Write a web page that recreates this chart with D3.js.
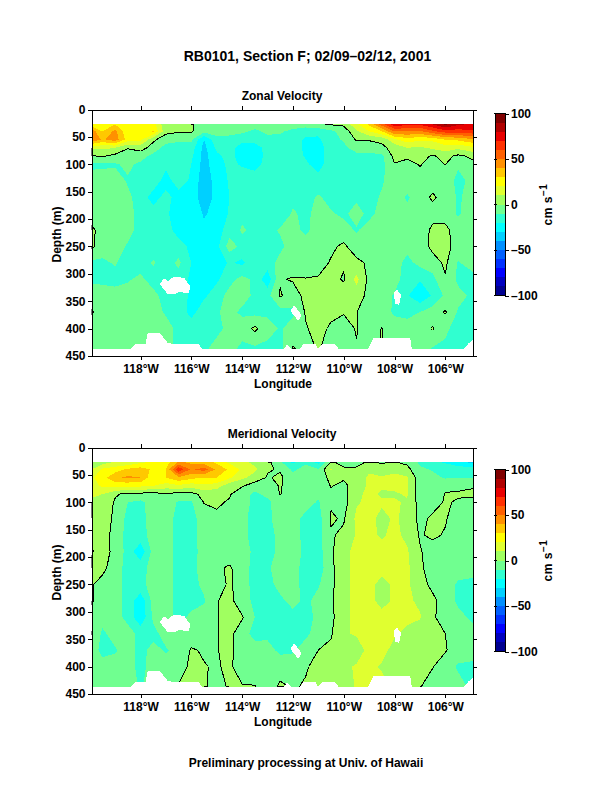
<!DOCTYPE html>
<html><head><meta charset="utf-8"><style>html,body{margin:0;background:#fff}svg{display:block}text{font-family:"Liberation Sans",Arial,sans-serif;font-weight:bold;fill:#000}</style></head><body>
<svg id="c" width="612" height="792"></svg>
<script src="https://cdn.jsdelivr.net/npm/d3@7/dist/d3.min.js"></script>
<script>
const lons=[-119.93,-119.5,-119,-118.5,-118,-117.5,-117,-116.5,-116,-115.5,-115,-114.5,-114,-113.5,-113,-112.5,-112,-111.5,-111,-110.5,-110,-109.5,-109,-108.5,-108,-107.5,-107,-106.5,-106,-105.5,-104.91];
const depths=[27,40,55,70,85,100,130,160,190,220,250,280,310,340,370,400,437];
const zonal=[
[24,28,30,20,22,24,2,1,1,-4,-1,-1,-6,-6,-6,-6,-6,-6,-1,1,2,18,32,55,78,72,72,80,92,82,78],
[46,30,43,22,26,31,3,1,1,-7,-6,-6,-8,-12,-8,-9,-12,-15,-17,-12,-6,8,20,30,50,50,48,58,65,65,68],
[50,38,46,25,22,2,-6,-8,-8,-30,-13,-14,-17,-14,-13,-12,-14,-22,-22,-13,-9,1,1,2,18,25,22,22,30,32,38],
[12,12,10,0.5,4,-4,-14,-15,-15,-33,-18,-16,-25,-28,-14,-15,-15,-22,-25,-14,-12,-6,-7,-2,3,10,8,12,15,12,18],
[-1,1,-3,-4,-6,-13,-15,-16,-18,-34,-22,-17,-24,-27,-16,-14,-15,-21,-25,-14,-14,-13,-12,-12,3,3,3,-1,3,-2,2],
[-12,-12,-11,-8,-12,-15,-17,-16,-20,-34,-24,-18,-21,-24,-16,-13,-14,-18,-25,-13,-13,-14,-13,-13,-0.5,-5,1,-5,0.3,-9,-2],
[-6,-5,-6,-11,-12,-13,-25,-14,-22,-36,-26,-19,-15,-14,-15,-15,-13,-14,-15,-13,-13,-13,-14,-11,-6,-6,-6,-6,-6,-12,-8],
[-5,-5,-6,-8,-14,-25,-16,-25,-24,-36,-27,-20,-14,-13,-15,-16,-12,-13,-9,-13,-11,-12,-13,-9,-6,-11,-6,2,-5,-11,-7],
[-5,-4,-5,-7,-13,-15,-18,-26,-24,-31,-27,-19,-12,-13,-14,-16,-9,-12,-7,-9,-12,-6,-13,-6,-6,-8,-7,-5,-5,-11,-6],
[2,-4,-5,-7,-13,-14,-15,-25,-23,-28,-25,-15,-9,-12,-13,-9,-7,-12,-6,-6,-6,-11,-6,-6,-6,-8,-8,3,3,-6,-5],
[2,-5,-6,-11,-14,-14,-16,-15,-23,-28,-23,-5,-13,-14,-13,-12,-6,-6,-6,-2,2,-6,-6,-6,-6,-7,-6,3,4,-5,-5],
[-12,-12,-9,-15,-14,-9,-14,-8,-20,-23,-24,-19,-22,-14,-14,-7,-6,-6,-4,1,1,3,-2,-6,-6,-13,-7,-5,2,-11,-5],
[-12,-13,-14,-11,-8,-14,-14,-14,-22,-23,-22,-13,-7,-12,-27,-1,1,0.5,1,3,-1,13,-3,-6,-6,-15,-19,-13,-1,-12,-14],
[-4,-4,-5,-6,-9,-7,-14,-15,-22,-22,-14,-7,-6,-12,-13,1,-5,3,5,4,5,5,-3,-6,-11,-19,-28,-19,-8,-7,-12],
[1,-5,-6,-7,-7,-7,-11,-13,-24,-13,-11,-7,-12,-13,-12,-14,-12,1,3,3,1,0.5,-9,-7,-11,-12,-10,-5,1,-11,-11],
[-5,-5,-5,-5,-6,-5,-7,-12,-13,-13,-13,-7,-5,2,-6,-11,-6,-1,4,-2,-6,1,-7,0.5,-7,-7,-6,1,-9,-12,-12],
[-6,-6,-7,-6,-6,-6,-8,-12,-12,-12,-6,-6,-13,-12,-13,-13,1,-4,1,-5,-6,-1,-7,1,-8,-8,-6,-11,-11,-12,-12]];
const meridional=[
[3,5,12,12,18,22,25,42,38,35,28,18,12,8,3,-8,-22,-12,-23,1,-2,-2,1,-1,0.5,-2,-12,-18,-21,-26,-33],
[10,22,25,32,35,28,30,68,48,55,38,28,18,12,1,-1,-12,-6,-9,11,1,1,8,5,8,3,-8,-11,-14,-15,-14],
[18,26,38,42,40,22,30,38,33,30,30,22,12,6,-1,2,-7,-7,-6,3,1,3,12,11,12,11,-6,-7,-11,-10,-11],
[15,22,24,22,22,20,15,18,14,18,15,4,1,-5,-6,1,-6,-7,-7,0.5,-2,4,12,11,12,11,-6,-6,-2,-2,-1],
[12,10,1,-2,-3,-4,-1,-4,-3,3,2,1,-6,-12,-7,0.5,-7,-7,-8,-2,-4,8,12,9,9,11,-6,-6,0.5,1,2],
[8,6,-1,-10,-12,-6,-5,-11,-11,0.5,1.5,-1,-5,-13,-13,-3,-5,-6,-11,-1,-4,9,12,11,11,9,-4,-4,1,-1,-3],
[-0.5,5,-2,-13,-13,-6,-6,-13,-13,-6,-2,-5,-7,-14,-12,-6,-6,-13,-14,1,-1,12,12,8,11,8,-3,2,1,-6,-7],
[-0.5,4,-3,-14,-14,-6,-6,-13,-13,-6,-6,-6,-7,-14,-14,-7,-6,-13,-14,-1,2,11,12,9,12,8,-1,2,-1,-6,-6],
[-0.5,3,-2,-14,-27,-6,-6,-13,-13,-7,-6,-6,-6,-12,-13,-8,-6,-12,-14,-2,9,11,12,13,12,11,1,-5,-6,-7,-7],
[1,3,-6,-13,-14,-6,-6,-13,-13,-6,-2,1.5,-6,-13,-11,-7,-7,-13,-15,-3,9,11,12,12,12,12,2,-5,-9,-7,-7],
[1,-4,-6,-13,-13,-6,-6,-13,-13,-8,-6,2,-6,-13,-13,-7,-7,-13,-11,-3,9,11,12,8,11,12,3,-2,-6,-11,-12],
[1,-4,-6,-13,-27,-6,-6,-13,-13,-11,-0.5,3,-6,-12,-14,-12,-7,-12,-7,-2,9,11,12,8,11,12,8,2,-4,-12,-11],
[-3,-6,-6,-13,-28,-8,-6,-13,-8,-6,-0.5,3,1,-10,-13,-13,-13,-13,-8,-3,9,11,12,12,13,12,11,2,-6,-7,-12],
[0.5,-12,-6,-6,-13,-13,-6,-6,-6,-6,-0.5,3,-6,-13,-12,-13,-13,-12,-6,-1,9,11,13,13,11,8,3,3,0,-6,-7],
[-5,-13,-11,-6,-13,-7,-11,-7,1,-1,-0.5,3,-6,-6,-7,-12,-11,-6,0,2,5,5,13,13,7,5,4,4,1,-6,-6],
[-6,-6,-6,-6,-13,-6,-6,-6,3,0.5,-1,2,-6,-6,-6,-5,-6,-1,3,5,8,11,12,9,9,8,2,0.5,-6,-11,-12],
[-6,-6,-6,-6,-11,-6,-6,1,3,1,-3,1,1,0.5,-6,2,-1,1,6,11,5,11,12,13,8,7,0.5,-5,-6,-7,-12]];
// regions with no data, as [longitude, depth] outlines
const gaps=[
[[-117.24,319],[-117.08,308],[-116.91,313],[-116.71,306],[-116.29,307],[-116.03,324],[-116.12,336],[-116.45,333],[-116.65,337],[-116.95,336]],
[[-111.96,357],[-111.66,375],[-111.79,386],[-112.09,368]],
[[-107.91,328],[-107.74,339],[-107.82,357],[-107.97,354],[-108.04,336]],
[[-118.39,438],[-118.22,429],[-117.79,429],[-117.74,409],[-117.24,408],[-116.91,427],[-115.69,429],[-115.57,438]],
[[-112.38,438],[-112.23,429],[-112.02,438]],
[[-111.75,438],[-111.6,429],[-111.1,429],[-111.0,438]],
[[-111.06,438],[-110.86,429],[-110.34,429],[-110.18,438]],
[[-109.05,438],[-108.83,418],[-107.38,417],[-107.32,438]],
[[-105.28,438],[-105.09,427],[-104.91,421],[-104.91,438]]];
const levels=d3.range(-100,100,10);
const bandColors=["#000090","#0000c0","#0000ff","#0030ff","#0060ff","#0090ff","#00d0ff","#00ffff","#30ffd0","#70ff90","#a0ff60","#e0ff30","#ffff00","#ffc800","#ff9000","#ff6000","#ff3000","#e80000","#b00000","#800000"];
const depthTicks=[0,50,100,150,200,250,300,350,400,450];
const lonTicks=[-118,-116,-114,-112,-110,-108,-106];
const barTicks=[-100,-50,0,50,100];
const panels=[
 {title:"Zonal Velocity",values:zonal,top:109.5,barTop:113.5},
 {title:"Meridional Velocity",values:meridional,top:447.5,barTop:469.5}];

const svg=d3.select("#c");
const left=91.5,right=473,h=246.5;
const x=d3.scaleLinear().domain([-119.93,-104.91]).range([left,right]);
const colAt=d3.scaleLinear().domain(d3.range(lons.length)).range(lons).clamp(true);
const rowAt=d3.scaleLinear().domain(d3.range(depths.length)).range(depths).clamp(true);
const band=d3.scaleOrdinal(levels,bandColors);

function frameAxis(g,axis,tx,ty){
  const a=g.append("g").attr("transform",`translate(${tx},${ty})`).call(axis);
  a.select(".domain").attr("stroke","#000").attr("stroke-width",1).attr("shape-rendering","crispEdges");
  a.selectAll(".tick line").attr("stroke","#000").attr("shape-rendering","crispEdges");
  a.selectAll("text").attr("font-size",12).attr("font-family",null).attr("fill","#000");
  return a;
}
panels.forEach((p,idx)=>{
  const g=svg.append("g");
  const y=d3.scaleLinear().domain([0,450]).range([p.top,p.top+h]);
  const n=lons.length,m=depths.length,flat=p.values.flat();
  const px=c=>x(colAt(c-0.5)),py=r=>y(rowAt(r-0.5));
  const proj=d3.geoTransform({point(a,b){this.stream.point(px(a),py(b));}});
  const path=d3.geoPath(proj);
  const contour=d3.contours().size([n,m]);
  const clipId="clip"+idx;
  g.append("clipPath").attr("id",clipId).append("rect").attr("x",left).attr("y",p.top).attr("width",right-left).attr("height",h);
  const plot=g.append("g").attr("clip-path",`url(#${clipId})`);
  plot.append("g").selectAll("path").data(levels).join("path")
    .attr("d",t=>path(contour.contour(flat,t===-100?-1000:t)))
    .attr("fill",t=>band(t)).attr("shape-rendering","crispEdges");
  // zero contour line, leaving out the stretches that run along the grid edge
  const zero=contour.contour(flat,0);
  const onEdge=(a,b)=>(a[0]<=0&&b[0]<=0)||(a[0]>=n&&b[0]>=n)||(a[1]<=0&&b[1]<=0)||(a[1]>=m&&b[1]>=m);
  let dStr="";
  zero.coordinates.forEach(poly=>poly.forEach(ring=>{
    for(let i=0;i<ring.length-1;i++){
      if(onEdge(ring[i],ring[i+1]))continue;
      dStr+=`M${px(ring[i][0])},${py(ring[i][1])}L${px(ring[i+1][0])},${py(ring[i+1][1])}`;
    }
  }));
  plot.append("path").attr("d",dStr).attr("fill","none").attr("stroke","#000").attr("stroke-width",1).attr("shape-rendering","crispEdges");
  plot.append("g").selectAll("path").data(gaps).join("path")
    .attr("d",d=>d3.line().x(q=>x(q[0])).y(q=>y(q[1]))(d)+"Z").attr("fill","#fff").attr("shape-rendering","crispEdges");
  // axes
  const fmt=d=>`${-d}\u00b0W`;
  frameAxis(g,d3.axisBottom(x).tickValues(lonTicks).tickFormat(fmt).tickSize(4).tickPadding(4).tickSizeOuter(0),0,p.top+h);
  frameAxis(g,d3.axisTop(x).tickValues(lonTicks).tickFormat("").tickSize(4).tickSizeOuter(0),0,p.top);
  frameAxis(g,d3.axisLeft(y).tickValues(depthTicks).tickSize(4).tickPadding(2).tickSizeOuter(0),left,0);
  frameAxis(g,d3.axisRight(y).tickValues(depthTicks).tickFormat("").tickSize(4).tickSizeOuter(0),right,0);
  g.append("text").attr("x",282).attr("y",p.top-10).attr("text-anchor","middle").attr("font-size",12).text(p.title);
  g.append("text").attr("x",283).attr("y",p.top+h+32).attr("text-anchor","middle").attr("font-size",12).text("Longitude");
  g.append("text").attr("transform",`translate(61,${p.top+125}) rotate(-90)`).attr("text-anchor","middle").attr("font-size",12).text("Depth (m)");
  // colour bar
  const barH=182,barX=495,barW=10;
  const cy=d3.scaleLinear().domain([-100,100]).range([p.barTop+barH,p.barTop]);
  g.append("g").selectAll("rect").data(levels).join("rect")
    .attr("x",barX).attr("width",barW).attr("y",t=>cy(t+10)).attr("height",t=>cy(t)-cy(t+10))
    .attr("fill",t=>band(t)).attr("shape-rendering","crispEdges");
  g.append("rect").attr("x",barX).attr("y",p.barTop).attr("width",barW).attr("height",barH).attr("fill","none").attr("stroke","#000").attr("shape-rendering","crispEdges");
  const ba=g.append("g").attr("transform",`translate(${barX+barW},0)`).call(d3.axisRight(cy).tickValues(barTicks).tickSize(4).tickPadding(2).tickSizeOuter(0).tickFormat(d=>d<0?`\u2013${-d}`:d));
  ba.select(".domain").remove();
  ba.selectAll(".tick line").attr("stroke","#000").attr("shape-rendering","crispEdges");
  ba.selectAll("text").attr("font-size",12).attr("font-family",null).attr("fill","#000");
  g.append("g").selectAll("line").data(barTicks).join("line").attr("x1",barX-1).attr("x2",barX+2).attr("y1",cy).attr("y2",cy).attr("stroke","#000").attr("shape-rendering","crispEdges");
  const lab=g.append("text").attr("transform",`translate(552,${p.barTop+91}) rotate(-90)`).attr("text-anchor","middle").attr("font-size",12).attr("letter-spacing",0.5);
  lab.append("tspan").text("cm s");
  lab.append("tspan").attr("dy",-5).attr("font-size",10).text("\u22121");
});
svg.append("text").attr("x",307.5).attr("y",61).attr("text-anchor","middle").attr("font-size",14).text("RB0101, Section F; 02/09\u201302/12, 2001");
svg.append("text").attr("x",306).attr("y",767).attr("text-anchor","middle").attr("font-size",12).text("Preliminary processing at Univ. of Hawaii");
</script></body></html>
